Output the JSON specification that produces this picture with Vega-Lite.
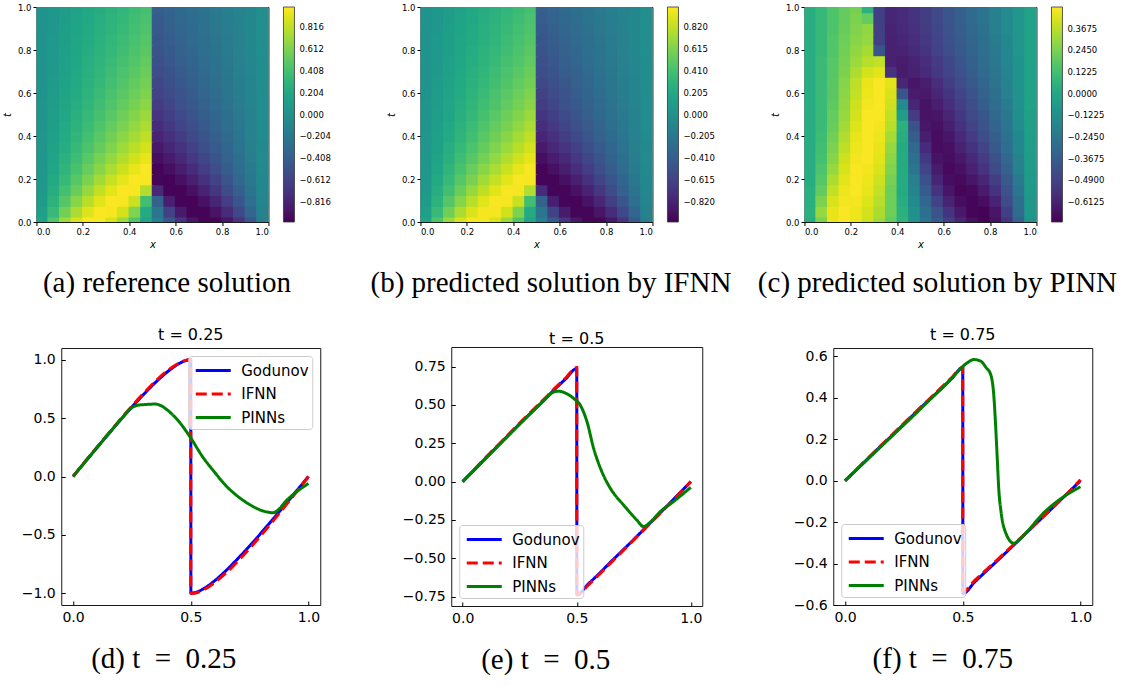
{
"$schema": "https://vega.github.io/schema/vega-lite/v6.json",
"background": "white",
"padding": {"left": 1, "top": 2, "right": 5, "bottom": 0},
"datasets": {
"ref": [
{"x":0.025,"t":0,"u":0.156},{"x":0.075,"t":0,"u":0.454},{"x":0.125,"t":0,"u":0.707},{"x":0.175,"t":0,"u":0.891},{"x":0.225,"t":0,"u":0.988},{"x":0.275,"t":0,"u":0.988},{"x":0.325,"t":0,"u":0.891},{"x":0.375,"t":0,"u":0.707},{"x":0.425,"t":0,"u":0.454},{"x":0.475,"t":0,"u":0.156},{"x":0.525,"t":0,"u":-0.156},{"x":0.575,"t":0,"u":-0.454},{"x":0.625,"t":0,"u":-0.707},{"x":0.675,"t":0,"u":-0.891},{"x":0.725,"t":0,"u":-0.988},{"x":0.775,"t":0,"u":-0.988},{"x":0.825,"t":0,"u":-0.891},{"x":0.875,"t":0,"u":-0.707},{"x":0.925,"t":0,"u":-0.454},{"x":0.975,"t":0,"u":-0.156},
{"x":0.025,"t":0.05,"u":0.119},{"x":0.075,"t":0.05,"u":0.353},{"x":0.125,"t":0.05,"u":0.570},{"x":0.175,"t":0.05,"u":0.758},{"x":0.225,"t":0.05,"u":0.905},{"x":0.275,"t":0.05,"u":0.988},{"x":0.325,"t":0.05,"u":0.987},{"x":0.375,"t":0.05,"u":0.872},{"x":0.425,"t":0.05,"u":0.620},{"x":0.475,"t":0.05,"u":0.227},{"x":0.525,"t":0.05,"u":-0.227},{"x":0.575,"t":0.05,"u":-0.620},{"x":0.625,"t":0.05,"u":-0.872},{"x":0.675,"t":0.05,"u":-0.987},{"x":0.725,"t":0.05,"u":-0.988},{"x":0.775,"t":0.05,"u":-0.905},{"x":0.825,"t":0.05,"u":-0.758},{"x":0.875,"t":0.05,"u":-0.570},{"x":0.925,"t":0.05,"u":-0.353},{"x":0.975,"t":0.05,"u":-0.119},
{"x":0.025,"t":0.1,"u":0.096},{"x":0.075,"t":0.1,"u":0.286},{"x":0.125,"t":0.1,"u":0.471},{"x":0.175,"t":0.1,"u":0.643},{"x":0.225,"t":0.1,"u":0.794},{"x":0.275,"t":0.1,"u":0.915},{"x":0.325,"t":0.1,"u":0.989},{"x":0.375,"t":0.1,"u":0.987},{"x":0.425,"t":0.1,"u":0.843},{"x":0.475,"t":0.1,"u":0.394},{"x":0.525,"t":0.1,"u":-0.394},{"x":0.575,"t":0.1,"u":-0.843},{"x":0.625,"t":0.1,"u":-0.987},{"x":0.675,"t":0.1,"u":-0.989},{"x":0.725,"t":0.1,"u":-0.915},{"x":0.775,"t":0.1,"u":-0.794},{"x":0.825,"t":0.1,"u":-0.643},{"x":0.875,"t":0.1,"u":-0.471},{"x":0.925,"t":0.1,"u":-0.286},{"x":0.975,"t":0.1,"u":-0.096},
{"x":0.025,"t":0.15,"u":0.081},{"x":0.075,"t":0.15,"u":0.241},{"x":0.125,"t":0.15,"u":0.398},{"x":0.175,"t":0.15,"u":0.549},{"x":0.225,"t":0.15,"u":0.691},{"x":0.275,"t":0.15,"u":0.818},{"x":0.325,"t":0.15,"u":0.922},{"x":0.375,"t":0.15,"u":0.989},{"x":0.425,"t":0.15,"u":0.986},{"x":0.475,"t":0.15,"u":0.774},{"x":0.525,"t":0.15,"u":-0.774},{"x":0.575,"t":0.15,"u":-0.986},{"x":0.625,"t":0.15,"u":-0.989},{"x":0.675,"t":0.15,"u":-0.922},{"x":0.725,"t":0.15,"u":-0.818},{"x":0.775,"t":0.15,"u":-0.691},{"x":0.825,"t":0.15,"u":-0.549},{"x":0.875,"t":0.15,"u":-0.398},{"x":0.925,"t":0.15,"u":-0.241},{"x":0.975,"t":0.15,"u":-0.081},
{"x":0.025,"t":0.2,"u":0.070},{"x":0.075,"t":0.2,"u":0.208},{"x":0.125,"t":0.2,"u":0.345},{"x":0.175,"t":0.2,"u":0.479},{"x":0.225,"t":0.2,"u":0.606},{"x":0.275,"t":0.2,"u":0.727},{"x":0.325,"t":0.2,"u":0.836},{"x":0.375,"t":0.2,"u":0.928},{"x":0.425,"t":0.2,"u":0.990},{"x":0.475,"t":0.2,"u":0.985},{"x":0.525,"t":0.2,"u":-0.985},{"x":0.575,"t":0.2,"u":-0.990},{"x":0.625,"t":0.2,"u":-0.928},{"x":0.675,"t":0.2,"u":-0.836},{"x":0.725,"t":0.2,"u":-0.727},{"x":0.775,"t":0.2,"u":-0.606},{"x":0.825,"t":0.2,"u":-0.479},{"x":0.875,"t":0.2,"u":-0.345},{"x":0.925,"t":0.2,"u":-0.208},{"x":0.975,"t":0.2,"u":-0.070},
{"x":0.025,"t":0.25,"u":0.061},{"x":0.075,"t":0.25,"u":0.183},{"x":0.125,"t":0.25,"u":0.304},{"x":0.175,"t":0.25,"u":0.423},{"x":0.225,"t":0.25,"u":0.538},{"x":0.275,"t":0.25,"u":0.650},{"x":0.325,"t":0.25,"u":0.755},{"x":0.375,"t":0.25,"u":0.852},{"x":0.425,"t":0.25,"u":0.934},{"x":0.475,"t":0.25,"u":0.990},{"x":0.525,"t":0.25,"u":-0.990},{"x":0.575,"t":0.25,"u":-0.934},{"x":0.625,"t":0.25,"u":-0.852},{"x":0.675,"t":0.25,"u":-0.755},{"x":0.725,"t":0.25,"u":-0.650},{"x":0.775,"t":0.25,"u":-0.538},{"x":0.825,"t":0.25,"u":-0.423},{"x":0.875,"t":0.25,"u":-0.304},{"x":0.925,"t":0.25,"u":-0.183},{"x":0.975,"t":0.25,"u":-0.061},
{"x":0.025,"t":0.3,"u":0.054},{"x":0.075,"t":0.3,"u":0.163},{"x":0.125,"t":0.3,"u":0.271},{"x":0.175,"t":0.3,"u":0.378},{"x":0.225,"t":0.3,"u":0.483},{"x":0.275,"t":0.3,"u":0.585},{"x":0.325,"t":0.3,"u":0.684},{"x":0.375,"t":0.3,"u":0.778},{"x":0.425,"t":0.3,"u":0.864},{"x":0.475,"t":0.3,"u":0.938},{"x":0.525,"t":0.3,"u":-0.938},{"x":0.575,"t":0.3,"u":-0.864},{"x":0.625,"t":0.3,"u":-0.778},{"x":0.675,"t":0.3,"u":-0.684},{"x":0.725,"t":0.3,"u":-0.585},{"x":0.775,"t":0.3,"u":-0.483},{"x":0.825,"t":0.3,"u":-0.378},{"x":0.875,"t":0.3,"u":-0.271},{"x":0.925,"t":0.3,"u":-0.163},{"x":0.975,"t":0.3,"u":-0.054},
{"x":0.025,"t":0.35,"u":0.049},{"x":0.075,"t":0.35,"u":0.147},{"x":0.125,"t":0.35,"u":0.245},{"x":0.175,"t":0.35,"u":0.342},{"x":0.225,"t":0.35,"u":0.437},{"x":0.275,"t":0.35,"u":0.530},{"x":0.325,"t":0.35,"u":0.623},{"x":0.375,"t":0.35,"u":0.712},{"x":0.425,"t":0.35,"u":0.795},{"x":0.475,"t":0.35,"u":0.874},{"x":0.525,"t":0.35,"u":-0.874},{"x":0.575,"t":0.35,"u":-0.795},{"x":0.625,"t":0.35,"u":-0.712},{"x":0.675,"t":0.35,"u":-0.623},{"x":0.725,"t":0.35,"u":-0.530},{"x":0.775,"t":0.35,"u":-0.437},{"x":0.825,"t":0.35,"u":-0.342},{"x":0.875,"t":0.35,"u":-0.245},{"x":0.925,"t":0.35,"u":-0.147},{"x":0.975,"t":0.35,"u":-0.049},
{"x":0.025,"t":0.4,"u":0.045},{"x":0.075,"t":0.4,"u":0.134},{"x":0.125,"t":0.4,"u":0.223},{"x":0.175,"t":0.4,"u":0.311},{"x":0.225,"t":0.4,"u":0.399},{"x":0.275,"t":0.4,"u":0.486},{"x":0.325,"t":0.4,"u":0.571},{"x":0.375,"t":0.4,"u":0.654},{"x":0.425,"t":0.4,"u":0.734},{"x":0.475,"t":0.4,"u":0.811},{"x":0.525,"t":0.4,"u":-0.811},{"x":0.575,"t":0.4,"u":-0.734},{"x":0.625,"t":0.4,"u":-0.654},{"x":0.675,"t":0.4,"u":-0.571},{"x":0.725,"t":0.4,"u":-0.486},{"x":0.775,"t":0.4,"u":-0.399},{"x":0.825,"t":0.4,"u":-0.311},{"x":0.875,"t":0.4,"u":-0.223},{"x":0.925,"t":0.4,"u":-0.134},{"x":0.975,"t":0.4,"u":-0.045},
{"x":0.025,"t":0.45,"u":0.041},{"x":0.075,"t":0.45,"u":0.123},{"x":0.125,"t":0.45,"u":0.205},{"x":0.175,"t":0.45,"u":0.287},{"x":0.225,"t":0.45,"u":0.367},{"x":0.275,"t":0.45,"u":0.447},{"x":0.325,"t":0.45,"u":0.526},{"x":0.375,"t":0.45,"u":0.604},{"x":0.425,"t":0.45,"u":0.680},{"x":0.475,"t":0.45,"u":0.754},{"x":0.525,"t":0.45,"u":-0.754},{"x":0.575,"t":0.45,"u":-0.680},{"x":0.625,"t":0.45,"u":-0.604},{"x":0.675,"t":0.45,"u":-0.526},{"x":0.725,"t":0.45,"u":-0.447},{"x":0.775,"t":0.45,"u":-0.367},{"x":0.825,"t":0.45,"u":-0.287},{"x":0.875,"t":0.45,"u":-0.205},{"x":0.925,"t":0.45,"u":-0.123},{"x":0.975,"t":0.45,"u":-0.041},
{"x":0.025,"t":0.5,"u":0.038},{"x":0.075,"t":0.5,"u":0.114},{"x":0.125,"t":0.5,"u":0.189},{"x":0.175,"t":0.5,"u":0.264},{"x":0.225,"t":0.5,"u":0.339},{"x":0.275,"t":0.5,"u":0.414},{"x":0.325,"t":0.5,"u":0.487},{"x":0.375,"t":0.5,"u":0.560},{"x":0.425,"t":0.5,"u":0.632},{"x":0.475,"t":0.5,"u":0.703},{"x":0.525,"t":0.5,"u":-0.703},{"x":0.575,"t":0.5,"u":-0.632},{"x":0.625,"t":0.5,"u":-0.560},{"x":0.675,"t":0.5,"u":-0.487},{"x":0.725,"t":0.5,"u":-0.414},{"x":0.775,"t":0.5,"u":-0.339},{"x":0.825,"t":0.5,"u":-0.264},{"x":0.875,"t":0.5,"u":-0.189},{"x":0.925,"t":0.5,"u":-0.114},{"x":0.975,"t":0.5,"u":-0.038},
{"x":0.025,"t":0.55,"u":0.035},{"x":0.075,"t":0.55,"u":0.106},{"x":0.125,"t":0.55,"u":0.176},{"x":0.175,"t":0.55,"u":0.246},{"x":0.225,"t":0.55,"u":0.316},{"x":0.275,"t":0.55,"u":0.385},{"x":0.325,"t":0.55,"u":0.454},{"x":0.375,"t":0.55,"u":0.522},{"x":0.425,"t":0.55,"u":0.590},{"x":0.475,"t":0.55,"u":0.656},{"x":0.525,"t":0.55,"u":-0.656},{"x":0.575,"t":0.55,"u":-0.590},{"x":0.625,"t":0.55,"u":-0.522},{"x":0.675,"t":0.55,"u":-0.454},{"x":0.725,"t":0.55,"u":-0.385},{"x":0.775,"t":0.55,"u":-0.316},{"x":0.825,"t":0.55,"u":-0.246},{"x":0.875,"t":0.55,"u":-0.176},{"x":0.925,"t":0.55,"u":-0.106},{"x":0.975,"t":0.55,"u":-0.035},
{"x":0.025,"t":0.6,"u":0.033},{"x":0.075,"t":0.6,"u":0.099},{"x":0.125,"t":0.6,"u":0.164},{"x":0.175,"t":0.6,"u":0.230},{"x":0.225,"t":0.6,"u":0.296},{"x":0.275,"t":0.6,"u":0.361},{"x":0.325,"t":0.6,"u":0.426},{"x":0.375,"t":0.6,"u":0.491},{"x":0.425,"t":0.6,"u":0.554},{"x":0.475,"t":0.6,"u":0.617},{"x":0.525,"t":0.6,"u":-0.617},{"x":0.575,"t":0.6,"u":-0.554},{"x":0.625,"t":0.6,"u":-0.491},{"x":0.675,"t":0.6,"u":-0.426},{"x":0.725,"t":0.6,"u":-0.361},{"x":0.775,"t":0.6,"u":-0.296},{"x":0.825,"t":0.6,"u":-0.230},{"x":0.875,"t":0.6,"u":-0.164},{"x":0.925,"t":0.6,"u":-0.099},{"x":0.975,"t":0.6,"u":-0.033},
{"x":0.025,"t":0.65,"u":0.031},{"x":0.075,"t":0.65,"u":0.093},{"x":0.125,"t":0.65,"u":0.154},{"x":0.175,"t":0.65,"u":0.216},{"x":0.225,"t":0.65,"u":0.277},{"x":0.275,"t":0.65,"u":0.338},{"x":0.325,"t":0.65,"u":0.399},{"x":0.375,"t":0.65,"u":0.460},{"x":0.425,"t":0.65,"u":0.520},{"x":0.475,"t":0.65,"u":0.580},{"x":0.525,"t":0.65,"u":-0.580},{"x":0.575,"t":0.65,"u":-0.520},{"x":0.625,"t":0.65,"u":-0.460},{"x":0.675,"t":0.65,"u":-0.399},{"x":0.725,"t":0.65,"u":-0.338},{"x":0.775,"t":0.65,"u":-0.277},{"x":0.825,"t":0.65,"u":-0.216},{"x":0.875,"t":0.65,"u":-0.154},{"x":0.925,"t":0.65,"u":-0.093},{"x":0.975,"t":0.65,"u":-0.031},
{"x":0.025,"t":0.7,"u":0.029},{"x":0.075,"t":0.7,"u":0.087},{"x":0.125,"t":0.7,"u":0.145},{"x":0.175,"t":0.7,"u":0.203},{"x":0.225,"t":0.7,"u":0.261},{"x":0.275,"t":0.7,"u":0.319},{"x":0.325,"t":0.7,"u":0.376},{"x":0.375,"t":0.7,"u":0.434},{"x":0.425,"t":0.7,"u":0.491},{"x":0.475,"t":0.7,"u":0.548},{"x":0.525,"t":0.7,"u":-0.548},{"x":0.575,"t":0.7,"u":-0.491},{"x":0.625,"t":0.7,"u":-0.434},{"x":0.675,"t":0.7,"u":-0.376},{"x":0.725,"t":0.7,"u":-0.319},{"x":0.775,"t":0.7,"u":-0.261},{"x":0.825,"t":0.7,"u":-0.203},{"x":0.875,"t":0.7,"u":-0.145},{"x":0.925,"t":0.7,"u":-0.087},{"x":0.975,"t":0.7,"u":-0.029},
{"x":0.025,"t":0.75,"u":0.027},{"x":0.075,"t":0.75,"u":0.082},{"x":0.125,"t":0.75,"u":0.137},{"x":0.175,"t":0.75,"u":0.192},{"x":0.225,"t":0.75,"u":0.247},{"x":0.275,"t":0.75,"u":0.302},{"x":0.325,"t":0.75,"u":0.356},{"x":0.375,"t":0.75,"u":0.410},{"x":0.425,"t":0.75,"u":0.463},{"x":0.475,"t":0.75,"u":0.517},{"x":0.525,"t":0.75,"u":-0.517},{"x":0.575,"t":0.75,"u":-0.463},{"x":0.625,"t":0.75,"u":-0.410},{"x":0.675,"t":0.75,"u":-0.356},{"x":0.725,"t":0.75,"u":-0.302},{"x":0.775,"t":0.75,"u":-0.247},{"x":0.825,"t":0.75,"u":-0.192},{"x":0.875,"t":0.75,"u":-0.137},{"x":0.925,"t":0.75,"u":-0.082},{"x":0.975,"t":0.75,"u":-0.027},
{"x":0.025,"t":0.8,"u":0.026},{"x":0.075,"t":0.8,"u":0.078},{"x":0.125,"t":0.8,"u":0.130},{"x":0.175,"t":0.8,"u":0.182},{"x":0.225,"t":0.8,"u":0.234},{"x":0.275,"t":0.8,"u":0.286},{"x":0.325,"t":0.8,"u":0.337},{"x":0.375,"t":0.8,"u":0.389},{"x":0.425,"t":0.8,"u":0.440},{"x":0.475,"t":0.8,"u":0.491},{"x":0.525,"t":0.8,"u":-0.491},{"x":0.575,"t":0.8,"u":-0.440},{"x":0.625,"t":0.8,"u":-0.389},{"x":0.675,"t":0.8,"u":-0.337},{"x":0.725,"t":0.8,"u":-0.286},{"x":0.775,"t":0.8,"u":-0.234},{"x":0.825,"t":0.8,"u":-0.182},{"x":0.875,"t":0.8,"u":-0.130},{"x":0.925,"t":0.8,"u":-0.078},{"x":0.975,"t":0.8,"u":-0.026},
{"x":0.025,"t":0.85,"u":0.025},{"x":0.075,"t":0.85,"u":0.074},{"x":0.125,"t":0.85,"u":0.124},{"x":0.175,"t":0.85,"u":0.173},{"x":0.225,"t":0.85,"u":0.223},{"x":0.275,"t":0.85,"u":0.272},{"x":0.325,"t":0.85,"u":0.321},{"x":0.375,"t":0.85,"u":0.370},{"x":0.425,"t":0.85,"u":0.419},{"x":0.475,"t":0.85,"u":0.468},{"x":0.525,"t":0.85,"u":-0.468},{"x":0.575,"t":0.85,"u":-0.419},{"x":0.625,"t":0.85,"u":-0.370},{"x":0.675,"t":0.85,"u":-0.321},{"x":0.725,"t":0.85,"u":-0.272},{"x":0.775,"t":0.85,"u":-0.223},{"x":0.825,"t":0.85,"u":-0.173},{"x":0.875,"t":0.85,"u":-0.124},{"x":0.925,"t":0.85,"u":-0.074},{"x":0.975,"t":0.85,"u":-0.025},
{"x":0.025,"t":0.9,"u":0.024},{"x":0.075,"t":0.9,"u":0.071},{"x":0.125,"t":0.9,"u":0.118},{"x":0.175,"t":0.9,"u":0.165},{"x":0.225,"t":0.9,"u":0.212},{"x":0.275,"t":0.9,"u":0.259},{"x":0.325,"t":0.9,"u":0.306},{"x":0.375,"t":0.9,"u":0.353},{"x":0.425,"t":0.9,"u":0.400},{"x":0.475,"t":0.9,"u":0.446},{"x":0.525,"t":0.9,"u":-0.446},{"x":0.575,"t":0.9,"u":-0.400},{"x":0.625,"t":0.9,"u":-0.353},{"x":0.675,"t":0.9,"u":-0.306},{"x":0.725,"t":0.9,"u":-0.259},{"x":0.775,"t":0.9,"u":-0.212},{"x":0.825,"t":0.9,"u":-0.165},{"x":0.875,"t":0.9,"u":-0.118},{"x":0.925,"t":0.9,"u":-0.071},{"x":0.975,"t":0.9,"u":-0.024},
{"x":0.025,"t":0.95,"u":0.022},{"x":0.075,"t":0.95,"u":0.068},{"x":0.125,"t":0.95,"u":0.112},{"x":0.175,"t":0.95,"u":0.158},{"x":0.225,"t":0.95,"u":0.202},{"x":0.275,"t":0.95,"u":0.247},{"x":0.325,"t":0.95,"u":0.292},{"x":0.375,"t":0.95,"u":0.337},{"x":0.425,"t":0.95,"u":0.382},{"x":0.475,"t":0.95,"u":0.426},{"x":0.525,"t":0.95,"u":-0.426},{"x":0.575,"t":0.95,"u":-0.382},{"x":0.625,"t":0.95,"u":-0.337},{"x":0.675,"t":0.95,"u":-0.292},{"x":0.725,"t":0.95,"u":-0.247},{"x":0.775,"t":0.95,"u":-0.202},{"x":0.825,"t":0.95,"u":-0.158},{"x":0.875,"t":0.95,"u":-0.112},{"x":0.925,"t":0.95,"u":-0.068},{"x":0.975,"t":0.95,"u":-0.022},
{"x":0.025,"t":1,"u":0.022},{"x":0.075,"t":1,"u":0.065},{"x":0.125,"t":1,"u":0.108},{"x":0.175,"t":1,"u":0.151},{"x":0.225,"t":1,"u":0.194},{"x":0.275,"t":1,"u":0.237},{"x":0.325,"t":1,"u":0.280},{"x":0.375,"t":1,"u":0.323},{"x":0.425,"t":1,"u":0.366},{"x":0.475,"t":1,"u":0.409},{"x":0.525,"t":1,"u":-0.409},{"x":0.575,"t":1,"u":-0.366},{"x":0.625,"t":1,"u":-0.323},{"x":0.675,"t":1,"u":-0.280},{"x":0.725,"t":1,"u":-0.237},{"x":0.775,"t":1,"u":-0.194},{"x":0.825,"t":1,"u":-0.151},{"x":0.875,"t":1,"u":-0.108},{"x":0.925,"t":1,"u":-0.065},{"x":0.975,"t":1,"u":-0.022}
],
"pinn": [
{"x":0.025,"t":0,"u":0.03},{"x":0.075,"t":0,"u":0.25},{"x":0.125,"t":0,"u":0.45},{"x":0.175,"t":0,"u":0.48},{"x":0.225,"t":0,"u":0.46},{"x":0.275,"t":0,"u":0.40},{"x":0.325,"t":0,"u":0.32},{"x":0.375,"t":0,"u":0.20},{"x":0.425,"t":0,"u":0.06},{"x":0.475,"t":0,"u":-0.10},{"x":0.525,"t":0,"u":-0.25},{"x":0.575,"t":0,"u":-0.38},{"x":0.625,"t":0,"u":-0.50},{"x":0.675,"t":0,"u":-0.60},{"x":0.725,"t":0,"u":-0.68},{"x":0.775,"t":0,"u":-0.72},{"x":0.825,"t":0,"u":-0.68},{"x":0.875,"t":0,"u":-0.55},{"x":0.925,"t":0,"u":-0.35},{"x":0.975,"t":0,"u":-0.10},
{"x":0.025,"t":0.05,"u":0.05},{"x":0.075,"t":0.05,"u":0.30},{"x":0.125,"t":0.05,"u":0.45},{"x":0.175,"t":0.05,"u":0.48},{"x":0.225,"t":0.05,"u":0.46},{"x":0.275,"t":0.05,"u":0.41},{"x":0.325,"t":0.05,"u":0.34},{"x":0.375,"t":0.05,"u":0.22},{"x":0.425,"t":0.05,"u":0.05},{"x":0.475,"t":0.05,"u":-0.12},{"x":0.525,"t":0.05,"u":-0.28},{"x":0.575,"t":0.05,"u":-0.42},{"x":0.625,"t":0.05,"u":-0.55},{"x":0.675,"t":0.05,"u":-0.65},{"x":0.725,"t":0.05,"u":-0.71},{"x":0.775,"t":0.05,"u":-0.72},{"x":0.825,"t":0.05,"u":-0.66},{"x":0.875,"t":0.05,"u":-0.50},{"x":0.925,"t":0.05,"u":-0.30},{"x":0.975,"t":0.05,"u":-0.08},
{"x":0.025,"t":0.1,"u":0.04},{"x":0.075,"t":0.1,"u":0.25},{"x":0.125,"t":0.1,"u":0.42},{"x":0.175,"t":0.1,"u":0.47},{"x":0.225,"t":0.1,"u":0.47},{"x":0.275,"t":0.1,"u":0.43},{"x":0.325,"t":0.1,"u":0.36},{"x":0.375,"t":0.1,"u":0.22},{"x":0.425,"t":0.1,"u":0.03},{"x":0.475,"t":0.1,"u":-0.15},{"x":0.525,"t":0.1,"u":-0.33},{"x":0.575,"t":0.1,"u":-0.49},{"x":0.625,"t":0.1,"u":-0.61},{"x":0.675,"t":0.1,"u":-0.69},{"x":0.725,"t":0.1,"u":-0.71},{"x":0.775,"t":0.1,"u":-0.69},{"x":0.825,"t":0.1,"u":-0.61},{"x":0.875,"t":0.1,"u":-0.46},{"x":0.925,"t":0.1,"u":-0.28},{"x":0.975,"t":0.1,"u":-0.08},
{"x":0.025,"t":0.15,"u":0.04},{"x":0.075,"t":0.15,"u":0.20},{"x":0.125,"t":0.15,"u":0.38},{"x":0.175,"t":0.15,"u":0.46},{"x":0.225,"t":0.15,"u":0.48},{"x":0.275,"t":0.15,"u":0.45},{"x":0.325,"t":0.15,"u":0.38},{"x":0.375,"t":0.15,"u":0.22},{"x":0.425,"t":0.15,"u":0.02},{"x":0.475,"t":0.15,"u":-0.18},{"x":0.525,"t":0.15,"u":-0.38},{"x":0.575,"t":0.15,"u":-0.55},{"x":0.625,"t":0.15,"u":-0.66},{"x":0.675,"t":0.15,"u":-0.71},{"x":0.725,"t":0.15,"u":-0.70},{"x":0.775,"t":0.15,"u":-0.64},{"x":0.825,"t":0.15,"u":-0.55},{"x":0.875,"t":0.15,"u":-0.42},{"x":0.925,"t":0.15,"u":-0.25},{"x":0.975,"t":0.15,"u":-0.07},
{"x":0.025,"t":0.2,"u":0.03},{"x":0.075,"t":0.2,"u":0.17},{"x":0.125,"t":0.2,"u":0.34},{"x":0.175,"t":0.2,"u":0.44},{"x":0.225,"t":0.2,"u":0.48},{"x":0.275,"t":0.2,"u":0.46},{"x":0.325,"t":0.2,"u":0.40},{"x":0.375,"t":0.2,"u":0.24},{"x":0.425,"t":0.2,"u":0.02},{"x":0.475,"t":0.2,"u":-0.21},{"x":0.525,"t":0.2,"u":-0.43},{"x":0.575,"t":0.2,"u":-0.60},{"x":0.625,"t":0.2,"u":-0.69},{"x":0.675,"t":0.2,"u":-0.70},{"x":0.725,"t":0.2,"u":-0.66},{"x":0.775,"t":0.2,"u":-0.60},{"x":0.825,"t":0.2,"u":-0.51},{"x":0.875,"t":0.2,"u":-0.39},{"x":0.925,"t":0.2,"u":-0.23},{"x":0.975,"t":0.2,"u":-0.06},
{"x":0.025,"t":0.25,"u":0.03},{"x":0.075,"t":0.25,"u":0.15},{"x":0.125,"t":0.25,"u":0.30},{"x":0.175,"t":0.25,"u":0.42},{"x":0.225,"t":0.25,"u":0.48},{"x":0.275,"t":0.25,"u":0.47},{"x":0.325,"t":0.25,"u":0.42},{"x":0.375,"t":0.25,"u":0.26},{"x":0.425,"t":0.25,"u":0.02},{"x":0.475,"t":0.25,"u":-0.25},{"x":0.525,"t":0.25,"u":-0.48},{"x":0.575,"t":0.25,"u":-0.64},{"x":0.625,"t":0.25,"u":-0.70},{"x":0.675,"t":0.25,"u":-0.68},{"x":0.725,"t":0.25,"u":-0.62},{"x":0.775,"t":0.25,"u":-0.55},{"x":0.825,"t":0.25,"u":-0.46},{"x":0.875,"t":0.25,"u":-0.35},{"x":0.925,"t":0.25,"u":-0.20},{"x":0.975,"t":0.25,"u":-0.05},
{"x":0.025,"t":0.3,"u":0.03},{"x":0.075,"t":0.3,"u":0.13},{"x":0.125,"t":0.3,"u":0.27},{"x":0.175,"t":0.3,"u":0.40},{"x":0.225,"t":0.3,"u":0.47},{"x":0.275,"t":0.3,"u":0.48},{"x":0.325,"t":0.3,"u":0.44},{"x":0.375,"t":0.3,"u":0.28},{"x":0.425,"t":0.3,"u":0.02},{"x":0.475,"t":0.3,"u":-0.28},{"x":0.525,"t":0.3,"u":-0.53},{"x":0.575,"t":0.3,"u":-0.67},{"x":0.625,"t":0.3,"u":-0.69},{"x":0.675,"t":0.3,"u":-0.65},{"x":0.725,"t":0.3,"u":-0.59},{"x":0.775,"t":0.3,"u":-0.52},{"x":0.825,"t":0.3,"u":-0.43},{"x":0.875,"t":0.3,"u":-0.32},{"x":0.925,"t":0.3,"u":-0.19},{"x":0.975,"t":0.3,"u":-0.05},
{"x":0.025,"t":0.35,"u":0.03},{"x":0.075,"t":0.35,"u":0.12},{"x":0.125,"t":0.35,"u":0.25},{"x":0.175,"t":0.35,"u":0.37},{"x":0.225,"t":0.35,"u":0.46},{"x":0.275,"t":0.35,"u":0.48},{"x":0.325,"t":0.35,"u":0.45},{"x":0.375,"t":0.35,"u":0.30},{"x":0.425,"t":0.35,"u":0.02},{"x":0.475,"t":0.35,"u":-0.32},{"x":0.525,"t":0.35,"u":-0.58},{"x":0.575,"t":0.35,"u":-0.69},{"x":0.625,"t":0.35,"u":-0.68},{"x":0.675,"t":0.35,"u":-0.62},{"x":0.725,"t":0.35,"u":-0.55},{"x":0.775,"t":0.35,"u":-0.48},{"x":0.825,"t":0.35,"u":-0.39},{"x":0.875,"t":0.35,"u":-0.29},{"x":0.925,"t":0.35,"u":-0.17},{"x":0.975,"t":0.35,"u":-0.04},
{"x":0.025,"t":0.4,"u":0.03},{"x":0.075,"t":0.4,"u":0.11},{"x":0.125,"t":0.4,"u":0.23},{"x":0.175,"t":0.4,"u":0.35},{"x":0.225,"t":0.4,"u":0.45},{"x":0.275,"t":0.4,"u":0.48},{"x":0.325,"t":0.4,"u":0.46},{"x":0.375,"t":0.4,"u":0.33},{"x":0.425,"t":0.4,"u":0.03},{"x":0.475,"t":0.4,"u":-0.37},{"x":0.525,"t":0.4,"u":-0.63},{"x":0.575,"t":0.4,"u":-0.69},{"x":0.625,"t":0.4,"u":-0.66},{"x":0.675,"t":0.4,"u":-0.59},{"x":0.725,"t":0.4,"u":-0.52},{"x":0.775,"t":0.4,"u":-0.45},{"x":0.825,"t":0.4,"u":-0.37},{"x":0.875,"t":0.4,"u":-0.27},{"x":0.925,"t":0.4,"u":-0.16},{"x":0.975,"t":0.4,"u":-0.04},
{"x":0.025,"t":0.45,"u":0.03},{"x":0.075,"t":0.45,"u":0.10},{"x":0.125,"t":0.45,"u":0.21},{"x":0.175,"t":0.45,"u":0.32},{"x":0.225,"t":0.45,"u":0.43},{"x":0.275,"t":0.45,"u":0.48},{"x":0.325,"t":0.45,"u":0.47},{"x":0.375,"t":0.45,"u":0.36},{"x":0.425,"t":0.45,"u":0.05},{"x":0.475,"t":0.45,"u":-0.42},{"x":0.525,"t":0.45,"u":-0.66},{"x":0.575,"t":0.45,"u":-0.68},{"x":0.625,"t":0.45,"u":-0.63},{"x":0.675,"t":0.45,"u":-0.56},{"x":0.725,"t":0.45,"u":-0.49},{"x":0.775,"t":0.45,"u":-0.42},{"x":0.825,"t":0.45,"u":-0.34},{"x":0.875,"t":0.45,"u":-0.25},{"x":0.925,"t":0.45,"u":-0.14},{"x":0.975,"t":0.45,"u":-0.03},
{"x":0.025,"t":0.5,"u":0.03},{"x":0.075,"t":0.5,"u":0.10},{"x":0.125,"t":0.5,"u":0.20},{"x":0.175,"t":0.5,"u":0.30},{"x":0.225,"t":0.5,"u":0.41},{"x":0.275,"t":0.5,"u":0.48},{"x":0.325,"t":0.5,"u":0.48},{"x":0.375,"t":0.5,"u":0.38},{"x":0.425,"t":0.5,"u":-0.05},{"x":0.475,"t":0.5,"u":-0.52},{"x":0.525,"t":0.5,"u":-0.67},{"x":0.575,"t":0.5,"u":-0.66},{"x":0.625,"t":0.5,"u":-0.60},{"x":0.675,"t":0.5,"u":-0.53},{"x":0.725,"t":0.5,"u":-0.46},{"x":0.775,"t":0.5,"u":-0.40},{"x":0.825,"t":0.5,"u":-0.32},{"x":0.875,"t":0.5,"u":-0.24},{"x":0.925,"t":0.5,"u":-0.13},{"x":0.975,"t":0.5,"u":-0.03},
{"x":0.025,"t":0.55,"u":0.03},{"x":0.075,"t":0.55,"u":0.10},{"x":0.125,"t":0.55,"u":0.19},{"x":0.175,"t":0.55,"u":0.29},{"x":0.225,"t":0.55,"u":0.40},{"x":0.275,"t":0.55,"u":0.47},{"x":0.325,"t":0.55,"u":0.48},{"x":0.375,"t":0.55,"u":0.40},{"x":0.425,"t":0.55,"u":-0.15},{"x":0.475,"t":0.55,"u":-0.60},{"x":0.525,"t":0.55,"u":-0.67},{"x":0.575,"t":0.55,"u":-0.63},{"x":0.625,"t":0.55,"u":-0.57},{"x":0.675,"t":0.55,"u":-0.50},{"x":0.725,"t":0.55,"u":-0.44},{"x":0.775,"t":0.55,"u":-0.37},{"x":0.825,"t":0.55,"u":-0.30},{"x":0.875,"t":0.55,"u":-0.22},{"x":0.925,"t":0.55,"u":-0.12},{"x":0.975,"t":0.55,"u":-0.02},
{"x":0.025,"t":0.6,"u":0.03},{"x":0.075,"t":0.6,"u":0.10},{"x":0.125,"t":0.6,"u":0.18},{"x":0.175,"t":0.6,"u":0.28},{"x":0.225,"t":0.6,"u":0.38},{"x":0.275,"t":0.6,"u":0.46},{"x":0.325,"t":0.6,"u":0.48},{"x":0.375,"t":0.6,"u":0.42},{"x":0.425,"t":0.6,"u":-0.40},{"x":0.475,"t":0.6,"u":-0.64},{"x":0.525,"t":0.6,"u":-0.65},{"x":0.575,"t":0.6,"u":-0.60},{"x":0.625,"t":0.6,"u":-0.54},{"x":0.675,"t":0.6,"u":-0.48},{"x":0.725,"t":0.6,"u":-0.42},{"x":0.775,"t":0.6,"u":-0.35},{"x":0.825,"t":0.6,"u":-0.28},{"x":0.875,"t":0.6,"u":-0.20},{"x":0.925,"t":0.6,"u":-0.11},{"x":0.975,"t":0.6,"u":-0.02},
{"x":0.025,"t":0.65,"u":0.03},{"x":0.075,"t":0.65,"u":0.10},{"x":0.125,"t":0.65,"u":0.18},{"x":0.175,"t":0.65,"u":0.27},{"x":0.225,"t":0.65,"u":0.37},{"x":0.275,"t":0.65,"u":0.45},{"x":0.325,"t":0.65,"u":0.48},{"x":0.375,"t":0.65,"u":0.44},{"x":0.425,"t":0.65,"u":-0.60},{"x":0.475,"t":0.65,"u":-0.66},{"x":0.525,"t":0.65,"u":-0.63},{"x":0.575,"t":0.65,"u":-0.57},{"x":0.625,"t":0.65,"u":-0.51},{"x":0.675,"t":0.65,"u":-0.45},{"x":0.725,"t":0.65,"u":-0.39},{"x":0.775,"t":0.65,"u":-0.33},{"x":0.825,"t":0.65,"u":-0.26},{"x":0.875,"t":0.65,"u":-0.19},{"x":0.925,"t":0.65,"u":-0.10},{"x":0.975,"t":0.65,"u":-0.02},
{"x":0.025,"t":0.7,"u":0.03},{"x":0.075,"t":0.7,"u":0.10},{"x":0.125,"t":0.7,"u":0.17},{"x":0.175,"t":0.7,"u":0.25},{"x":0.225,"t":0.7,"u":0.34},{"x":0.275,"t":0.7,"u":0.41},{"x":0.325,"t":0.7,"u":0.44},{"x":0.375,"t":0.7,"u":-0.55},{"x":0.425,"t":0.7,"u":-0.64},{"x":0.475,"t":0.7,"u":-0.62},{"x":0.525,"t":0.7,"u":-0.58},{"x":0.575,"t":0.7,"u":-0.53},{"x":0.625,"t":0.7,"u":-0.48},{"x":0.675,"t":0.7,"u":-0.43},{"x":0.725,"t":0.7,"u":-0.37},{"x":0.775,"t":0.7,"u":-0.31},{"x":0.825,"t":0.7,"u":-0.25},{"x":0.875,"t":0.7,"u":-0.18},{"x":0.925,"t":0.7,"u":-0.10},{"x":0.975,"t":0.7,"u":-0.02},
{"x":0.025,"t":0.75,"u":0.03},{"x":0.075,"t":0.75,"u":0.10},{"x":0.125,"t":0.75,"u":0.17},{"x":0.175,"t":0.75,"u":0.24},{"x":0.225,"t":0.75,"u":0.31},{"x":0.275,"t":0.75,"u":0.36},{"x":0.325,"t":0.75,"u":0.38},{"x":0.375,"t":0.75,"u":-0.62},{"x":0.425,"t":0.75,"u":-0.64},{"x":0.475,"t":0.75,"u":-0.61},{"x":0.525,"t":0.75,"u":-0.57},{"x":0.575,"t":0.75,"u":-0.52},{"x":0.625,"t":0.75,"u":-0.47},{"x":0.675,"t":0.75,"u":-0.41},{"x":0.725,"t":0.75,"u":-0.36},{"x":0.775,"t":0.75,"u":-0.30},{"x":0.825,"t":0.75,"u":-0.24},{"x":0.875,"t":0.75,"u":-0.17},{"x":0.925,"t":0.75,"u":-0.10},{"x":0.975,"t":0.75,"u":-0.02},
{"x":0.025,"t":0.8,"u":0.03},{"x":0.075,"t":0.8,"u":0.09},{"x":0.125,"t":0.8,"u":0.16},{"x":0.175,"t":0.8,"u":0.23},{"x":0.225,"t":0.8,"u":0.29},{"x":0.275,"t":0.8,"u":0.33},{"x":0.325,"t":0.8,"u":-0.40},{"x":0.375,"t":0.8,"u":-0.62},{"x":0.425,"t":0.8,"u":-0.61},{"x":0.475,"t":0.8,"u":-0.58},{"x":0.525,"t":0.8,"u":-0.54},{"x":0.575,"t":0.8,"u":-0.49},{"x":0.625,"t":0.8,"u":-0.44},{"x":0.675,"t":0.8,"u":-0.39},{"x":0.725,"t":0.8,"u":-0.34},{"x":0.775,"t":0.8,"u":-0.29},{"x":0.825,"t":0.8,"u":-0.23},{"x":0.875,"t":0.8,"u":-0.17},{"x":0.925,"t":0.8,"u":-0.09},{"x":0.975,"t":0.8,"u":-0.02},
{"x":0.025,"t":0.85,"u":0.03},{"x":0.075,"t":0.85,"u":0.09},{"x":0.125,"t":0.85,"u":0.16},{"x":0.175,"t":0.85,"u":0.22},{"x":0.225,"t":0.85,"u":0.27},{"x":0.275,"t":0.85,"u":0.30},{"x":0.325,"t":0.85,"u":-0.50},{"x":0.375,"t":0.85,"u":-0.62},{"x":0.425,"t":0.85,"u":-0.60},{"x":0.475,"t":0.85,"u":-0.57},{"x":0.525,"t":0.85,"u":-0.53},{"x":0.575,"t":0.85,"u":-0.48},{"x":0.625,"t":0.85,"u":-0.43},{"x":0.675,"t":0.85,"u":-0.38},{"x":0.725,"t":0.85,"u":-0.33},{"x":0.775,"t":0.85,"u":-0.28},{"x":0.825,"t":0.85,"u":-0.22},{"x":0.875,"t":0.85,"u":-0.16},{"x":0.925,"t":0.85,"u":-0.09},{"x":0.975,"t":0.85,"u":-0.02},
{"x":0.025,"t":0.9,"u":0.03},{"x":0.075,"t":0.9,"u":0.09},{"x":0.125,"t":0.9,"u":0.15},{"x":0.175,"t":0.9,"u":0.21},{"x":0.225,"t":0.9,"u":0.26},{"x":0.275,"t":0.9,"u":0.29},{"x":0.325,"t":0.9,"u":-0.50},{"x":0.375,"t":0.9,"u":-0.61},{"x":0.425,"t":0.9,"u":-0.59},{"x":0.475,"t":0.9,"u":-0.56},{"x":0.525,"t":0.9,"u":-0.52},{"x":0.575,"t":0.9,"u":-0.47},{"x":0.625,"t":0.9,"u":-0.42},{"x":0.675,"t":0.9,"u":-0.37},{"x":0.725,"t":0.9,"u":-0.32},{"x":0.775,"t":0.9,"u":-0.27},{"x":0.825,"t":0.9,"u":-0.21},{"x":0.875,"t":0.9,"u":-0.15},{"x":0.925,"t":0.9,"u":-0.09},{"x":0.975,"t":0.9,"u":-0.02},
{"x":0.025,"t":0.95,"u":0.03},{"x":0.075,"t":0.95,"u":0.09},{"x":0.125,"t":0.95,"u":0.15},{"x":0.175,"t":0.95,"u":0.20},{"x":0.225,"t":0.95,"u":0.25},{"x":0.275,"t":0.95,"u":0.20},{"x":0.325,"t":0.95,"u":-0.50},{"x":0.375,"t":0.95,"u":-0.60},{"x":0.425,"t":0.95,"u":-0.58},{"x":0.475,"t":0.95,"u":-0.55},{"x":0.525,"t":0.95,"u":-0.51},{"x":0.575,"t":0.95,"u":-0.46},{"x":0.625,"t":0.95,"u":-0.41},{"x":0.675,"t":0.95,"u":-0.36},{"x":0.725,"t":0.95,"u":-0.31},{"x":0.775,"t":0.95,"u":-0.26},{"x":0.825,"t":0.95,"u":-0.21},{"x":0.875,"t":0.95,"u":-0.15},{"x":0.925,"t":0.95,"u":-0.09},{"x":0.975,"t":0.95,"u":-0.02},
{"x":0.025,"t":1,"u":0.03},{"x":0.075,"t":1,"u":0.09},{"x":0.125,"t":1,"u":0.15},{"x":0.175,"t":1,"u":0.20},{"x":0.225,"t":1,"u":0.24},{"x":0.275,"t":1,"u":0.05},{"x":0.325,"t":1,"u":-0.50},{"x":0.375,"t":1,"u":-0.60},{"x":0.425,"t":1,"u":-0.58},{"x":0.475,"t":1,"u":-0.55},{"x":0.525,"t":1,"u":-0.51},{"x":0.575,"t":1,"u":-0.46},{"x":0.625,"t":1,"u":-0.41},{"x":0.675,"t":1,"u":-0.36},{"x":0.725,"t":1,"u":-0.31},{"x":0.775,"t":1,"u":-0.26},{"x":0.825,"t":1,"u":-0.20},{"x":0.875,"t":1,"u":-0.15},{"x":0.925,"t":1,"u":-0.09},{"x":0.975,"t":1,"u":-0.02}
],
"d": [
{"s":"Godunov","x":0,"u":0},{"s":"Godunov","x":0.05,"u":0.122},{"s":"Godunov","x":0.1,"u":0.243},{"s":"Godunov","x":0.15,"u":0.363},{"s":"Godunov","x":0.2,"u":0.481},{"s":"Godunov","x":0.25,"u":0.595},{"s":"Godunov","x":0.3,"u":0.703},{"s":"Godunov","x":0.35,"u":0.805},{"s":"Godunov","x":0.4,"u":0.895},{"s":"Godunov","x":0.45,"u":0.966},{"s":"Godunov","x":0.475,"u":0.99},{"s":"Godunov","x":0.49,"u":0.998},{"s":"Godunov","x":0.5,"u":1.0},{"s":"Godunov","x":0.5005,"u":-1.0},{"s":"Godunov","x":0.51,"u":-0.998},{"s":"Godunov","x":0.525,"u":-0.99},{"s":"Godunov","x":0.55,"u":-0.966},{"s":"Godunov","x":0.6,"u":-0.895},{"s":"Godunov","x":0.65,"u":-0.805},{"s":"Godunov","x":0.7,"u":-0.703},{"s":"Godunov","x":0.75,"u":-0.595},{"s":"Godunov","x":0.8,"u":-0.481},{"s":"Godunov","x":0.85,"u":-0.363},{"s":"Godunov","x":0.9,"u":-0.243},{"s":"Godunov","x":0.95,"u":-0.122},{"s":"Godunov","x":1.0,"u":0},
{"s":"IFNN","x":0,"u":0},{"s":"IFNN","x":0.05,"u":0.124},{"s":"IFNN","x":0.1,"u":0.246},{"s":"IFNN","x":0.15,"u":0.367},{"s":"IFNN","x":0.2,"u":0.487},{"s":"IFNN","x":0.25,"u":0.603},{"s":"IFNN","x":0.3,"u":0.712},{"s":"IFNN","x":0.35,"u":0.815},{"s":"IFNN","x":0.4,"u":0.905},{"s":"IFNN","x":0.45,"u":0.97},{"s":"IFNN","x":0.475,"u":0.992},{"s":"IFNN","x":0.49,"u":1.0},{"s":"IFNN","x":0.5,"u":1.0},{"s":"IFNN","x":0.5005,"u":-1.0},{"s":"IFNN","x":0.51,"u":-1.0},{"s":"IFNN","x":0.525,"u":-0.995},{"s":"IFNN","x":0.55,"u":-0.975},{"s":"IFNN","x":0.6,"u":-0.91},{"s":"IFNN","x":0.65,"u":-0.825},{"s":"IFNN","x":0.7,"u":-0.725},{"s":"IFNN","x":0.75,"u":-0.615},{"s":"IFNN","x":0.8,"u":-0.5},{"s":"IFNN","x":0.85,"u":-0.38},{"s":"IFNN","x":0.9,"u":-0.255},{"s":"IFNN","x":0.95,"u":-0.13},{"s":"IFNN","x":1.0,"u":0},
{"s":"PINNs","x":0,"u":0},{"s":"PINNs","x":0.05,"u":0.122},{"s":"PINNs","x":0.1,"u":0.243},{"s":"PINNs","x":0.15,"u":0.363},{"s":"PINNs","x":0.2,"u":0.48},{"s":"PINNs","x":0.25,"u":0.59},{"s":"PINNs","x":0.275,"u":0.61},{"s":"PINNs","x":0.3,"u":0.615},{"s":"PINNs","x":0.35,"u":0.62},{"s":"PINNs","x":0.375,"u":0.605},{"s":"PINNs","x":0.4,"u":0.57},{"s":"PINNs","x":0.45,"u":0.47},{"s":"PINNs","x":0.5,"u":0.33},{"s":"PINNs","x":0.55,"u":0.17},{"s":"PINNs","x":0.6,"u":0.04},{"s":"PINNs","x":0.65,"u":-0.08},{"s":"PINNs","x":0.7,"u":-0.17},{"s":"PINNs","x":0.75,"u":-0.24},{"s":"PINNs","x":0.8,"u":-0.29},{"s":"PINNs","x":0.85,"u":-0.31},{"s":"PINNs","x":0.875,"u":-0.28},{"s":"PINNs","x":0.9,"u":-0.22},{"s":"PINNs","x":0.95,"u":-0.13},{"s":"PINNs","x":1.0,"u":-0.06}
],
"e": [
{"s":"Godunov","x":0,"u":0},{"s":"Godunov","x":0.05,"u":0.076},{"s":"Godunov","x":0.1,"u":0.152},{"s":"Godunov","x":0.15,"u":0.227},{"s":"Godunov","x":0.2,"u":0.302},{"s":"Godunov","x":0.25,"u":0.377},{"s":"Godunov","x":0.3,"u":0.45},{"s":"Godunov","x":0.35,"u":0.522},{"s":"Godunov","x":0.4,"u":0.597},{"s":"Godunov","x":0.45,"u":0.668},{"s":"Godunov","x":0.5,"u":0.737},{"s":"Godunov","x":0.5005,"u":-0.737},{"s":"Godunov","x":0.55,"u":-0.668},{"s":"Godunov","x":0.6,"u":-0.597},{"s":"Godunov","x":0.65,"u":-0.522},{"s":"Godunov","x":0.7,"u":-0.45},{"s":"Godunov","x":0.75,"u":-0.377},{"s":"Godunov","x":0.8,"u":-0.302},{"s":"Godunov","x":0.85,"u":-0.227},{"s":"Godunov","x":0.9,"u":-0.152},{"s":"Godunov","x":0.95,"u":-0.076},{"s":"Godunov","x":1.0,"u":0},
{"s":"IFNN","x":0,"u":0},{"s":"IFNN","x":0.05,"u":0.078},{"s":"IFNN","x":0.1,"u":0.155},{"s":"IFNN","x":0.15,"u":0.231},{"s":"IFNN","x":0.2,"u":0.306},{"s":"IFNN","x":0.25,"u":0.382},{"s":"IFNN","x":0.3,"u":0.456},{"s":"IFNN","x":0.35,"u":0.528},{"s":"IFNN","x":0.4,"u":0.603},{"s":"IFNN","x":0.45,"u":0.674},{"s":"IFNN","x":0.5,"u":0.745},{"s":"IFNN","x":0.5005,"u":-0.74},{"s":"IFNN","x":0.55,"u":-0.675},{"s":"IFNN","x":0.6,"u":-0.603},{"s":"IFNN","x":0.65,"u":-0.528},{"s":"IFNN","x":0.7,"u":-0.455},{"s":"IFNN","x":0.75,"u":-0.38},{"s":"IFNN","x":0.8,"u":-0.305},{"s":"IFNN","x":0.85,"u":-0.23},{"s":"IFNN","x":0.9,"u":-0.155},{"s":"IFNN","x":0.95,"u":-0.078},{"s":"IFNN","x":1.0,"u":0},
{"s":"PINNs","x":0,"u":0},{"s":"PINNs","x":0.05,"u":0.074},{"s":"PINNs","x":0.1,"u":0.15},{"s":"PINNs","x":0.15,"u":0.225},{"s":"PINNs","x":0.2,"u":0.3},{"s":"PINNs","x":0.25,"u":0.375},{"s":"PINNs","x":0.3,"u":0.448},{"s":"PINNs","x":0.35,"u":0.52},{"s":"PINNs","x":0.4,"u":0.585},{"s":"PINNs","x":0.42,"u":0.59},{"s":"PINNs","x":0.45,"u":0.578},{"s":"PINNs","x":0.486,"u":0.543},{"s":"PINNs","x":0.515,"u":0.5},{"s":"PINNs","x":0.545,"u":0.39},{"s":"PINNs","x":0.574,"u":0.217},{"s":"PINNs","x":0.61,"u":0.065},{"s":"PINNs","x":0.647,"u":-0.043},{"s":"PINNs","x":0.705,"u":-0.152},{"s":"PINNs","x":0.763,"u":-0.25},{"s":"PINNs","x":0.793,"u":-0.293},{"s":"PINNs","x":0.822,"u":-0.265},{"s":"PINNs","x":0.866,"u":-0.196},{"s":"PINNs","x":0.924,"u":-0.13},{"s":"PINNs","x":1.0,"u":-0.037}
],
"f": [
{"s":"Godunov","x":0,"u":0},{"s":"Godunov","x":0.05,"u":0.055},{"s":"Godunov","x":0.1,"u":0.11},{"s":"Godunov","x":0.15,"u":0.165},{"s":"Godunov","x":0.2,"u":0.219},{"s":"Godunov","x":0.25,"u":0.274},{"s":"Godunov","x":0.3,"u":0.329},{"s":"Godunov","x":0.35,"u":0.383},{"s":"Godunov","x":0.4,"u":0.436},{"s":"Godunov","x":0.45,"u":0.49},{"s":"Godunov","x":0.5,"u":0.545},{"s":"Godunov","x":0.5005,"u":-0.545},{"s":"Godunov","x":0.55,"u":-0.49},{"s":"Godunov","x":0.6,"u":-0.436},{"s":"Godunov","x":0.65,"u":-0.383},{"s":"Godunov","x":0.7,"u":-0.329},{"s":"Godunov","x":0.75,"u":-0.274},{"s":"Godunov","x":0.8,"u":-0.219},{"s":"Godunov","x":0.85,"u":-0.165},{"s":"Godunov","x":0.9,"u":-0.11},{"s":"Godunov","x":0.95,"u":-0.055},{"s":"Godunov","x":1.0,"u":0},
{"s":"IFNN","x":0,"u":0},{"s":"IFNN","x":0.05,"u":0.056},{"s":"IFNN","x":0.1,"u":0.112},{"s":"IFNN","x":0.15,"u":0.167},{"s":"IFNN","x":0.2,"u":0.222},{"s":"IFNN","x":0.25,"u":0.277},{"s":"IFNN","x":0.3,"u":0.332},{"s":"IFNN","x":0.35,"u":0.386},{"s":"IFNN","x":0.4,"u":0.44},{"s":"IFNN","x":0.45,"u":0.494},{"s":"IFNN","x":0.5,"u":0.548},{"s":"IFNN","x":0.5005,"u":-0.535},{"s":"IFNN","x":0.55,"u":-0.482},{"s":"IFNN","x":0.6,"u":-0.43},{"s":"IFNN","x":0.65,"u":-0.378},{"s":"IFNN","x":0.7,"u":-0.325},{"s":"IFNN","x":0.75,"u":-0.272},{"s":"IFNN","x":0.8,"u":-0.218},{"s":"IFNN","x":0.85,"u":-0.164},{"s":"IFNN","x":0.9,"u":-0.11},{"s":"IFNN","x":0.95,"u":-0.055},{"s":"IFNN","x":1.0,"u":0.005},
{"s":"PINNs","x":0,"u":0},{"s":"PINNs","x":0.05,"u":0.054},{"s":"PINNs","x":0.1,"u":0.108},{"s":"PINNs","x":0.15,"u":0.162},{"s":"PINNs","x":0.2,"u":0.216},{"s":"PINNs","x":0.25,"u":0.27},{"s":"PINNs","x":0.3,"u":0.324},{"s":"PINNs","x":0.35,"u":0.38},{"s":"PINNs","x":0.4,"u":0.434},{"s":"PINNs","x":0.45,"u":0.49},{"s":"PINNs","x":0.5,"u":0.552},{"s":"PINNs","x":0.52,"u":0.57},{"s":"PINNs","x":0.547,"u":0.585},{"s":"PINNs","x":0.576,"u":0.578},{"s":"PINNs","x":0.6,"u":0.545},{"s":"PINNs","x":0.618,"u":0.515},{"s":"PINNs","x":0.632,"u":0.41},{"s":"PINNs","x":0.639,"u":0.28},{"s":"PINNs","x":0.646,"u":0.12},{"s":"PINNs","x":0.653,"u":-0.04},{"s":"PINNs","x":0.663,"u":-0.153},{"s":"PINNs","x":0.682,"u":-0.25},{"s":"PINNs","x":0.717,"u":-0.302},{"s":"PINNs","x":0.74,"u":-0.285},{"s":"PINNs","x":0.774,"u":-0.245},{"s":"PINNs","x":0.844,"u":-0.155},{"s":"PINNs","x":0.915,"u":-0.088},{"s":"PINNs","x":1.0,"u":-0.029}
]
},
"vconcat": [
{
"hconcat": [
{
"width": 232, "height": 215,
"data": {"name": "ref"},
"mark": {"type": "rect", "width": 13, "height": 12.3, "clip": true},
"encoding": {
"x": {"field": "x", "type": "quantitative", "scale": {"domain": [0, 1], "nice": false, "zero": false}, "axis": {"values": [0, 0.2, 0.4, 0.6, 0.8, 1], "format": ".1f", "title": "x", "titleFontStyle": "italic", "labelFontSize": 8.5, "tickSize": 3.5, "labelPadding": 2, "titleFontSize": 10, "titlePadding": 3}},
"y": {"field": "t", "type": "quantitative", "scale": {"domain": [0, 1], "nice": false, "zero": false}, "axis": {"values": [0, 0.2, 0.4, 0.6, 0.8, 1], "format": ".1f", "title": "t", "titleFontStyle": "italic", "labelFontSize": 8.5, "tickSize": 3.5, "labelPadding": 2, "titleFontSize": 10, "titlePadding": 5}},
"color": {"field": "u", "type": "quantitative", "scale": {"scheme": "viridis", "domain": [-1.004, 1.004], "clamp": true}, "legend": {"type": "gradient", "direction": "vertical", "orient": "right", "offset": 15, "gradientLength": 215, "gradientThickness": 11, "values": [-0.816, -0.612, -0.408, -0.204, 0, 0.204, 0.408, 0.612, 0.816], "format": ".3f", "labelFontSize": 8.5, "labelOffset": 5, "labelOverlap": false, "title": null, "gradientStrokeColor": "#333", "gradientStrokeWidth": 0.8}}
},
"title": {"text": "(a) reference solution", "orient": "bottom", "anchor": "middle", "frame": "bounds", "font": "Liberation Serif", "fontSize": 29, "fontWeight": "normal", "offset": 20}
},
{
"width": 232, "height": 215,
"data": {"name": "ref"},
"mark": {"type": "rect", "width": 13, "height": 12.3, "clip": true},
"encoding": {
"x": {"field": "x", "type": "quantitative", "scale": {"domain": [0, 1], "nice": false, "zero": false}, "axis": {"values": [0, 0.2, 0.4, 0.6, 0.8, 1], "format": ".1f", "title": "x", "titleFontStyle": "italic", "labelFontSize": 8.5, "tickSize": 3.5, "labelPadding": 2, "titleFontSize": 10, "titlePadding": 3}},
"y": {"field": "t", "type": "quantitative", "scale": {"domain": [0, 1], "nice": false, "zero": false}, "axis": {"values": [0, 0.2, 0.4, 0.6, 0.8, 1], "format": ".1f", "title": "t", "titleFontStyle": "italic", "labelFontSize": 8.5, "tickSize": 3.5, "labelPadding": 2, "titleFontSize": 10, "titlePadding": 5}},
"color": {"field": "u", "type": "quantitative", "scale": {"scheme": "viridis", "domain": [-1.01, 1.01], "clamp": true}, "legend": {"type": "gradient", "direction": "vertical", "orient": "right", "offset": 15, "gradientLength": 215, "gradientThickness": 11, "values": [-0.82, -0.615, -0.41, -0.205, 0, 0.205, 0.41, 0.615, 0.82], "format": ".3f", "labelFontSize": 8.5, "labelOffset": 5, "labelOverlap": false, "title": null, "gradientStrokeColor": "#333", "gradientStrokeWidth": 0.8}}
},
"title": {"text": "(b) predicted solution by IFNN", "orient": "bottom", "anchor": "middle", "frame": "bounds", "font": "Liberation Serif", "fontSize": 29, "fontWeight": "normal", "offset": 20}
},
{
"width": 232, "height": 215,
"data": {"name": "pinn"},
"mark": {"type": "rect", "width": 13, "height": 12.3, "clip": true},
"encoding": {
"x": {"field": "x", "type": "quantitative", "scale": {"domain": [0, 1], "nice": false, "zero": false}, "axis": {"values": [0, 0.2, 0.4, 0.6, 0.8, 1], "format": ".1f", "title": "x", "titleFontStyle": "italic", "labelFontSize": 8.5, "tickSize": 3.5, "labelPadding": 2, "titleFontSize": 10, "titlePadding": 3}},
"y": {"field": "t", "type": "quantitative", "scale": {"domain": [0, 1], "nice": false, "zero": false}, "axis": {"values": [0, 0.2, 0.4, 0.6, 0.8, 1], "format": ".1f", "title": "t", "titleFontStyle": "italic", "labelFontSize": 8.5, "tickSize": 3.5, "labelPadding": 2, "titleFontSize": 10, "titlePadding": 5}},
"color": {"field": "u", "type": "quantitative", "scale": {"scheme": "viridis", "domain": [-0.726, 0.49], "clamp": true}, "legend": {"type": "gradient", "direction": "vertical", "orient": "right", "offset": 15, "gradientLength": 215, "gradientThickness": 11, "values": [-0.6125, -0.49, -0.3675, -0.245, -0.1225, 0, 0.1225, 0.245, 0.3675], "format": ".4f", "labelFontSize": 8.5, "labelOffset": 5, "labelOverlap": false, "title": null, "gradientStrokeColor": "#333", "gradientStrokeWidth": 0.8}}
},
"title": {"text": "(c) predicted solution by PINN", "orient": "bottom", "anchor": "middle", "frame": "bounds", "font": "Liberation Serif", "fontSize": 29, "fontWeight": "normal", "offset": 20}
}
],
"spacing": 152,
"bounds": "flush",
"center": true,
"resolve": {"scale": {"color": "independent"}, "legend": {"color": "independent"}}
},
{
"hconcat": [
{
"width": 259, "height": 257,
"data": {"name": "d"},
"mark": {"type": "line", "strokeWidth": 3, "interpolate": "monotone", "clip": true},
"encoding": {
"x": {"field": "x", "type": "quantitative", "scale": {"domain": [-0.05, 1.05], "nice": false, "zero": false}, "axis": {"values": [0, 0.5, 1], "format": ".1f", "labelFontSize": 14, "tickSize": -4, "labelPadding": 9, "title": "(d) t\u00a0\u00a0=\u00a0\u00a00.25", "titleFont": "Liberation Serif", "titleFontSize": 29, "titleFontWeight": "normal", "titlePadding": 20, "titleX": 102}},
"y": {"field": "u", "type": "quantitative", "scale": {"domain": [-1.1, 1.1], "nice": false, "zero": false}, "axis": {"values": [-1, -0.5, 0, 0.5, 1], "format": ".1f", "labelFontSize": 14, "tickSize": -4, "labelPadding": 10, "title": null}},
"color": {"field": "s", "type": "nominal", "scale": {"domain": ["Godunov", "IFNN", "PINNs"], "range": ["#0000ff", "#ff0000", "#008000"]}, "legend": {"title": null, "orient": "top-right", "offset": 8, "symbolType": "M-0.7,0H2.8", "symbolSize": 400, "symbolStrokeWidth": 3, "labelFontSize": 15, "labelOffset": 27, "rowPadding": 3.5, "padding": 3, "fillColor": "rgba(255,255,255,0.8)", "strokeColor": "#cccccc", "cornerRadius": 3}},
"strokeDash": {"field": "s", "type": "nominal", "scale": {"domain": ["Godunov", "IFNN", "PINNs"], "range": [[1, 0], [11, 5], [1, 0]]}, "legend": {"title": null, "orient": "top-right", "offset": 8, "symbolType": "M-0.7,0H2.8", "symbolSize": 400, "symbolStrokeWidth": 3, "labelFontSize": 15, "labelOffset": 27, "rowPadding": 3.5, "padding": 3, "fillColor": "rgba(255,255,255,0.8)", "strokeColor": "#cccccc", "cornerRadius": 3}}
},
"title": {"text": "t = 0.25", "font": "DejaVu Sans", "fontSize": 16, "fontWeight": "normal", "offset": 5, "anchor": "middle", "frame": "group"}
},
{
"width": 251, "height": 259,
"data": {"name": "e"},
"mark": {"type": "line", "strokeWidth": 3, "interpolate": "monotone", "clip": true},
"encoding": {
"x": {"field": "x", "type": "quantitative", "scale": {"domain": [-0.05, 1.05], "nice": false, "zero": false}, "axis": {"values": [0, 0.5, 1], "format": ".1f", "labelFontSize": 14, "tickSize": -4, "labelPadding": 9, "title": "(e) t\u00a0\u00a0=\u00a0\u00a00.5", "titleFont": "Liberation Serif", "titleFontSize": 29, "titleFontWeight": "normal", "titlePadding": 20, "titleX": 94}},
"y": {"field": "u", "type": "quantitative", "scale": {"domain": [-0.811, 0.878], "nice": false, "zero": false}, "axis": {"values": [-0.75, -0.5, -0.25, 0, 0.25, 0.5, 0.75], "format": ".2f", "labelFontSize": 14, "tickSize": -4, "labelPadding": 10, "title": null}},
"color": {"field": "s", "type": "nominal", "scale": {"domain": ["Godunov", "IFNN", "PINNs"], "range": ["#0000ff", "#ff0000", "#008000"]}, "legend": {"title": null, "orient": "bottom-left", "offset": 8, "symbolType": "M-0.7,0H2.8", "symbolSize": 400, "symbolStrokeWidth": 3, "labelFontSize": 15, "labelOffset": 27, "rowPadding": 3.5, "padding": 3, "fillColor": "rgba(255,255,255,0.8)", "strokeColor": "#cccccc", "cornerRadius": 3}},
"strokeDash": {"field": "s", "type": "nominal", "scale": {"domain": ["Godunov", "IFNN", "PINNs"], "range": [[1, 0], [11, 5], [1, 0]]}, "legend": {"title": null, "orient": "bottom-left", "offset": 8, "symbolType": "M-0.7,0H2.8", "symbolSize": 400, "symbolStrokeWidth": 3, "labelFontSize": 15, "labelOffset": 27, "rowPadding": 3.5, "padding": 3, "fillColor": "rgba(255,255,255,0.8)", "strokeColor": "#cccccc", "cornerRadius": 3}}
},
"title": {"text": "t = 0.5", "font": "DejaVu Sans", "fontSize": 16, "fontWeight": "normal", "offset": 0, "anchor": "middle", "frame": "group"}
},
{
"width": 259, "height": 257,
"data": {"name": "f"},
"mark": {"type": "line", "strokeWidth": 3, "interpolate": "monotone", "clip": true},
"encoding": {
"x": {"field": "x", "type": "quantitative", "scale": {"domain": [-0.05, 1.05], "nice": false, "zero": false}, "axis": {"values": [0, 0.5, 1], "format": ".1f", "labelFontSize": 14, "tickSize": -4, "labelPadding": 9, "title": "(f) t\u00a0\u00a0=\u00a0\u00a00.75", "titleFont": "Liberation Serif", "titleFontSize": 29, "titleFontWeight": "normal", "titlePadding": 20, "titleX": 109}},
"y": {"field": "u", "type": "quantitative", "scale": {"domain": [-0.6, 0.641], "nice": false, "zero": false}, "axis": {"values": [-0.6, -0.4, -0.2, 0, 0.2, 0.4, 0.6], "format": ".1f", "labelFontSize": 14, "tickSize": -4, "labelPadding": 10, "title": null}},
"color": {"field": "s", "type": "nominal", "scale": {"domain": ["Godunov", "IFNN", "PINNs"], "range": ["#0000ff", "#ff0000", "#008000"]}, "legend": {"title": null, "orient": "bottom-left", "offset": 8, "symbolType": "M-0.7,0H2.8", "symbolSize": 400, "symbolStrokeWidth": 3, "labelFontSize": 15, "labelOffset": 27, "rowPadding": 3.5, "padding": 3, "fillColor": "rgba(255,255,255,0.8)", "strokeColor": "#cccccc", "cornerRadius": 3}},
"strokeDash": {"field": "s", "type": "nominal", "scale": {"domain": ["Godunov", "IFNN", "PINNs"], "range": [[1, 0], [11, 5], [1, 0]]}, "legend": {"title": null, "orient": "bottom-left", "offset": 8, "symbolType": "M-0.7,0H2.8", "symbolSize": 400, "symbolStrokeWidth": 3, "labelFontSize": 15, "labelOffset": 27, "rowPadding": 3.5, "padding": 3, "fillColor": "rgba(255,255,255,0.8)", "strokeColor": "#cccccc", "cornerRadius": 3}}
},
"title": {"text": "t = 0.75", "font": "DejaVu Sans", "fontSize": 16, "fontWeight": "normal", "offset": 5, "anchor": "middle", "frame": "group"}
}
],
"spacing": 131,
"bounds": "flush",
"center": true,
"resolve": {"scale": {"color": "independent", "strokeDash": "independent"}, "legend": {"color": "independent", "strokeDash": "independent"}}
}
],
"spacing": 27,
"center": true,
"resolve": {"scale": {"color": "independent", "strokeDash": "independent"}, "legend": {"color": "independent", "strokeDash": "independent"}},
"config": {
"font": "DejaVu Sans",
"view": {"stroke": "#1a1a1a", "strokeWidth": 1},
"axis": {"domain": false, "grid": false, "tickColor": "#000000", "labelColor": "#000000", "titleColor": "#000000", "titleFontWeight": "normal"},
"title": {"color": "#000000", "fontWeight": "normal"},
"legend": {"labelColor": "#000000", "labelFont": "DejaVu Sans"}
}
}
